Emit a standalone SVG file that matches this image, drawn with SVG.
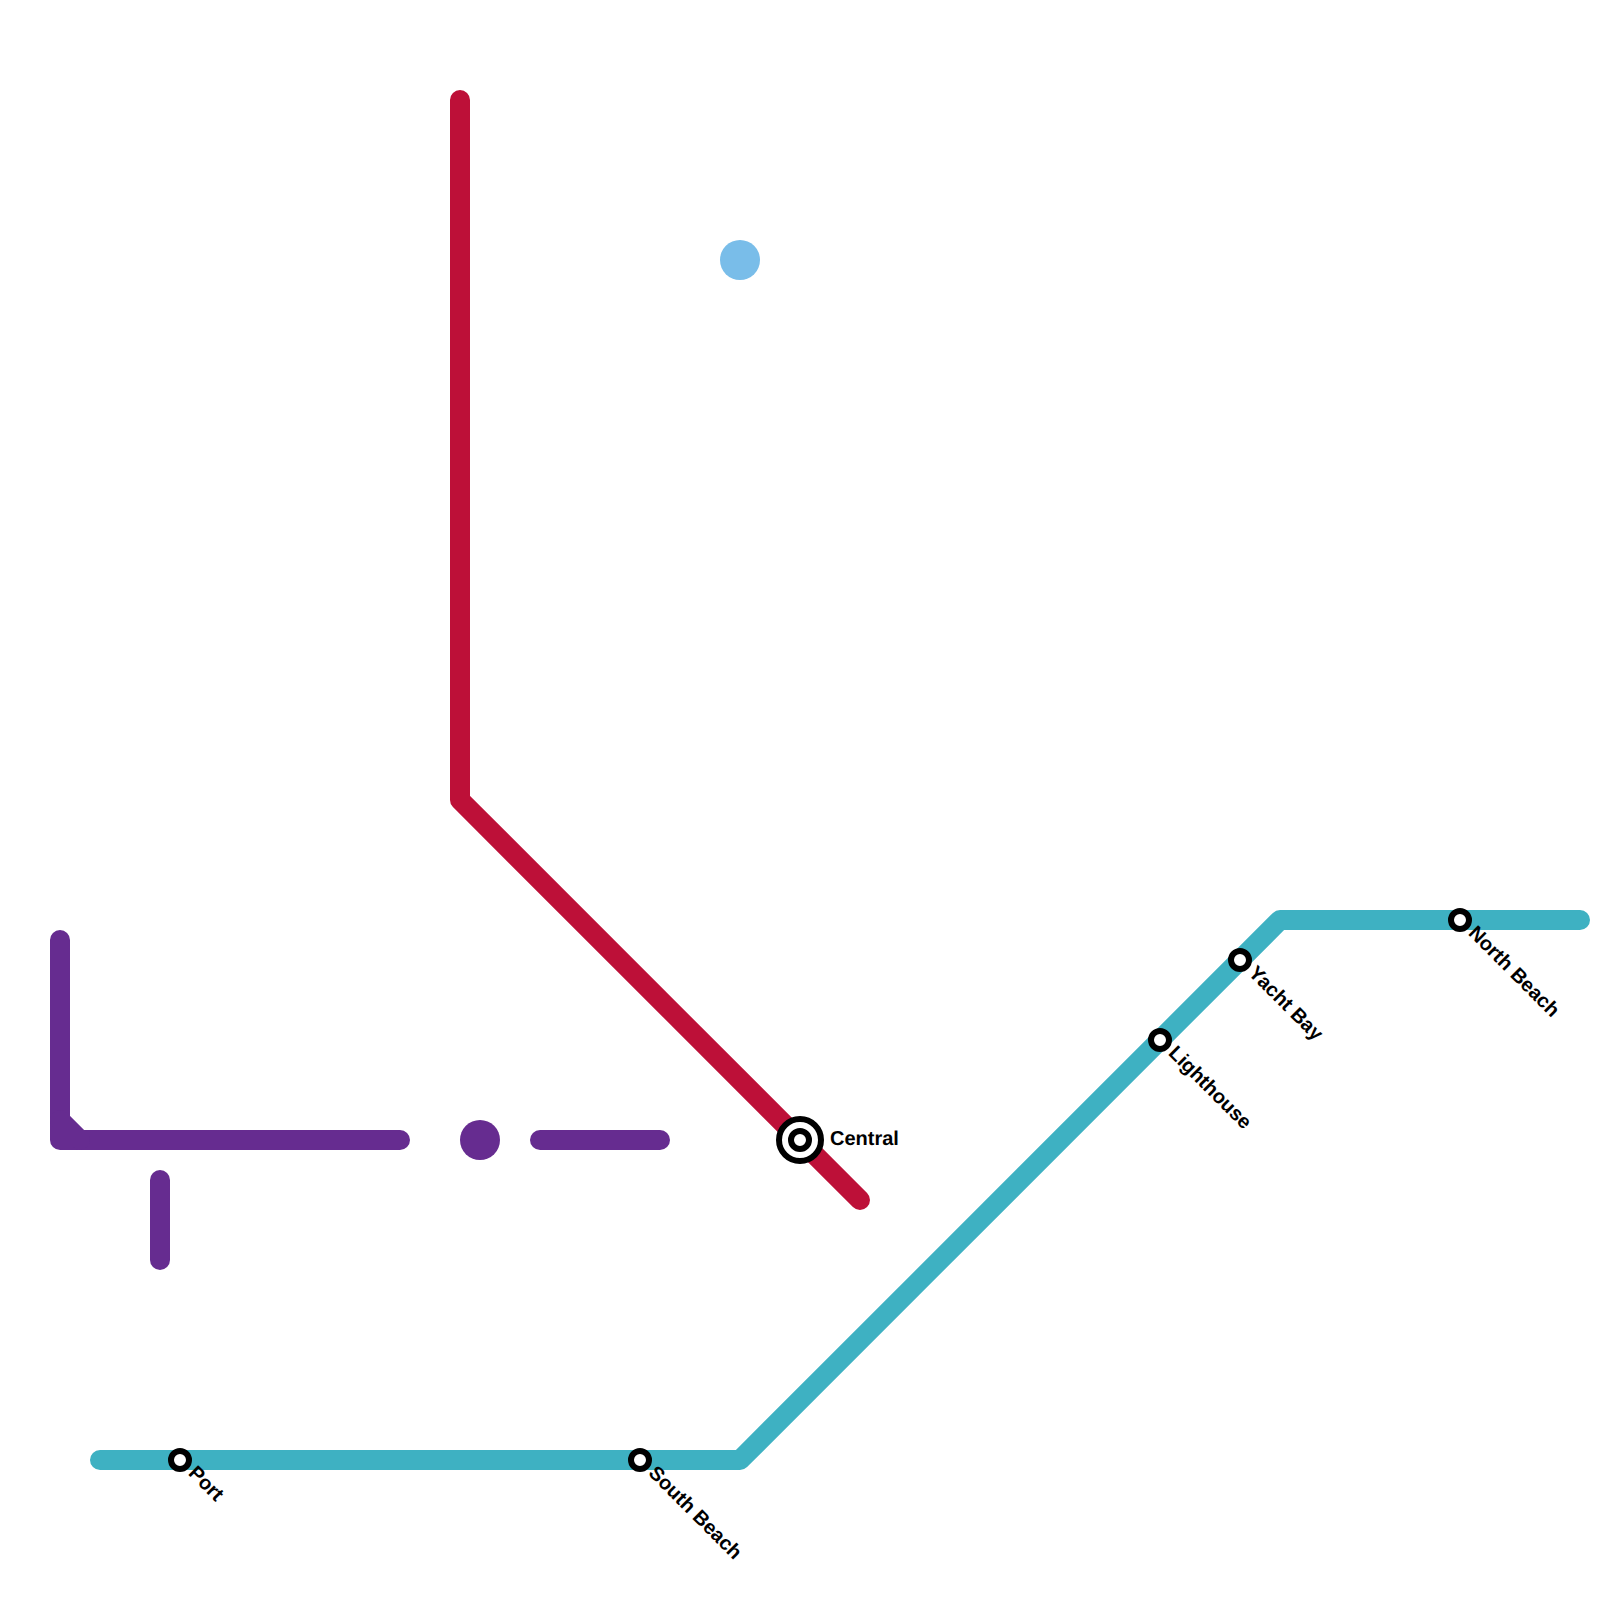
<svg xmlns="http://www.w3.org/2000/svg" width="1600" height="1600" viewBox="0 0 1600 1600">
<style>
.line{fill:none;stroke-width:20;stroke-linecap:round;stroke-linejoin:round}
.red{stroke:#bd1038}.purple{stroke:#662c90}.teal{stroke:#3eb1c2}
.st{fill:#fff;stroke:#000;stroke-width:6}
.lbl{font-family:"Liberation Sans",Arial,sans-serif;font-size:20px;font-weight:bold;fill:#000;text-rendering:geometricPrecision}
</style>
<rect width="1600" height="1600" fill="#fff"/>
<g id="connectors">
<path class="line red" d="M460 100V800L860 1200"/>
<path class="line purple" d="M60 940V1140H400"/>
<path class="line purple" d="M60 1120L80 1140"/>
<path class="line purple" d="M540 1140H660"/>
<path class="line purple" d="M160 1180V1260"/>
<path class="line teal" d="M100 1460H740L1280 920H1580"/>
</g>
<g id="blob-blue"><circle cx="740" cy="260" r="20" fill="#79bde9"/></g>
<g id="blob-purple"><circle cx="480" cy="1140" r="20" fill="#662c90"/></g>
<g id="central"><circle cx="800" cy="1140" r="21" class="st"/><circle cx="800" cy="1140" r="9" class="st"/><text class="lbl" x="830" y="1145">Central</text></g>
<g id="port"><circle cx="180" cy="1460" r="9" class="st"/><text class="lbl" transform="translate(187.5 1474) rotate(45)">Port</text></g>
<g id="south-beach"><circle cx="640" cy="1460" r="9" class="st"/><text class="lbl" transform="translate(647.5 1474) rotate(45)">South Beach</text></g>
<g id="lighthouse"><circle cx="1160" cy="1040" r="9" class="st"/><text class="lbl" transform="translate(1167.5 1054) rotate(45)">Lighthouse</text></g>
<g id="yacht-bay"><circle cx="1240" cy="960" r="9" class="st"/><text class="lbl" transform="translate(1247.5 974) rotate(45)">Yacht Bay</text></g>
<g id="north-beach"><circle cx="1460" cy="920" r="9" class="st"/><text class="lbl" transform="translate(1467.5 934) rotate(45)">North Beach</text></g>
</svg>
